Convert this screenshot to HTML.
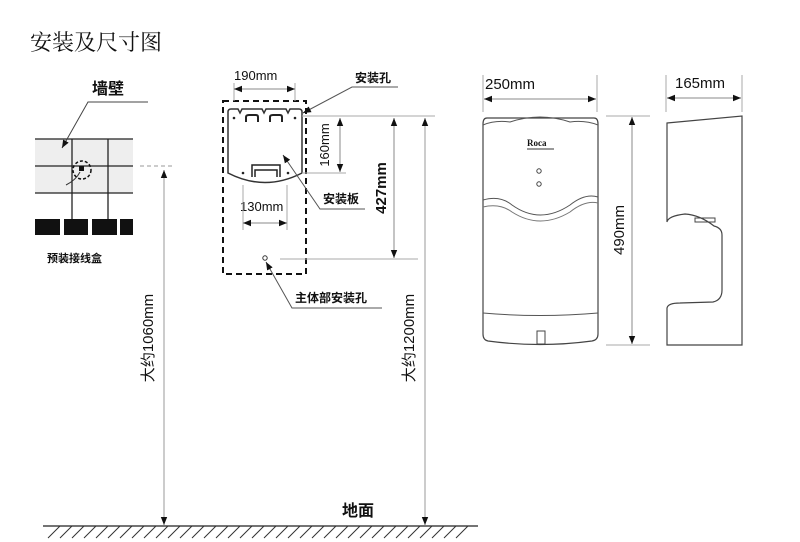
<!DOCTYPE html>
<html><head><meta charset="utf-8"><style>
html,body{margin:0;padding:0;background:#fff;}
svg{display:block;}
text{font-family:"Liberation Sans","Noto Sans CJK SC",sans-serif;fill:#111;}
</style></head><body>
<svg width="800" height="542" viewBox="0 0 800 542" xmlns="http://www.w3.org/2000/svg">
<defs>
<marker id="a" viewBox="0 0 10 10" refX="10" refY="5" markerWidth="8" markerHeight="8" orient="auto-start-reverse" markerUnits="userSpaceOnUse"><path d="M0,1 L10,5 L0,9 z" fill="#111"/></marker>
</defs>
<text x="30" y="50" font-size="22" style="font-family:'Liberation Serif','Noto Serif CJK SC',serif">安装及尺寸图</text>

<!-- wall -->
<text x="92" y="94" font-size="16" font-weight="bold">墙壁</text>
<rect x="35" y="139" width="98" height="54" fill="#eee"/>
<g stroke="#222" stroke-width="1.3" fill="none">
<line x1="35" y1="139" x2="133" y2="139"/><line x1="35" y1="166" x2="133" y2="166"/><line x1="35" y1="193" x2="133" y2="193"/>
<line x1="72" y1="139" x2="72" y2="219"/><line x1="108" y1="139" x2="108" y2="219"/>
</g>
<polyline points="148,102 88,102 62,148" fill="none" stroke="#444" stroke-width="1" marker-end="url(#a)"/>
<g fill="#111"><rect x="35" y="219" width="25" height="16"/><rect x="64" y="219" width="24" height="16"/><rect x="92" y="219" width="25" height="16"/><rect x="120" y="219" width="13" height="16"/></g>
<circle cx="82" cy="170" r="9" fill="none" stroke="#111" stroke-width="1.5" stroke-dasharray="3,2"/>
<rect x="79" y="166" width="5" height="5" fill="#111"/>
<path d="M66,185 Q76,180 80,172" fill="none" stroke="#333" stroke-width="1"/>
<text x="47" y="262" font-size="11" font-weight="bold">预装接线盒</text>

<!-- 1060 -->
<line x1="140" y1="166" x2="173" y2="166" stroke="#999" stroke-dasharray="4,3"/>
<line x1="164" y1="170" x2="164" y2="525" stroke="#999" marker-start="url(#a)" marker-end="url(#a)"/>
<text transform="translate(153,338) rotate(-90)" font-size="15" text-anchor="middle">大约1060mm</text>

<!-- ground -->
<line x1="43" y1="526" x2="478" y2="526" stroke="#222" stroke-width="1.2"/>
<path d="M48,538 l12,-12 M60,538 l12,-12 M72,538 l12,-12 M84,538 l12,-12 M96,538 l12,-12 M108,538 l12,-12 M120,538 l12,-12 M132,538 l12,-12 M144,538 l12,-12 M156,538 l12,-12 M168,538 l12,-12 M180,538 l12,-12 M192,538 l12,-12 M204,538 l12,-12 M216,538 l12,-12 M228,538 l12,-12 M240,538 l12,-12 M252,538 l12,-12 M264,538 l12,-12 M276,538 l12,-12 M288,538 l12,-12 M300,538 l12,-12 M312,538 l12,-12 M324,538 l12,-12 M336,538 l12,-12 M348,538 l12,-12 M360,538 l12,-12 M372,538 l12,-12 M384,538 l12,-12 M396,538 l12,-12 M408,538 l12,-12 M420,538 l12,-12 M432,538 l12,-12 M444,538 l12,-12 M456,538 l12,-12" stroke="#333" stroke-width="1"/>
<text x="342" y="516" font-size="16" font-weight="bold">地面</text>

<!-- dashed box and plate -->
<rect x="223" y="101" width="83" height="173" fill="none" stroke="#111" stroke-width="2" stroke-dasharray="6,4"/>
<path d="M228,112 Q228,109 231,109 L238,109 L240,113 L242,109 L262,109 L264,113 L266,109 L286,109 L288,113 L290,109 L299,109 Q302,109 302,112 L302,173 Q265,192 228,173 Z" fill="none" stroke="#333" stroke-width="1.5"/>
<path d="M246,122 L246,117 Q246,115 249,115 L256,115 Q258,115 258,117 L258,122 M270,122 L270,117 Q270,115 273,115 L280,115 Q282,115 282,117 L282,122" fill="none" stroke="#222" stroke-width="2"/>
<path d="M252,177 L252,165 L280,165 L280,177 M255,177 L255,170 L277,170 L277,177" fill="none" stroke="#222" stroke-width="1.5"/>
<g fill="#222"><circle cx="234" cy="118" r="1.3"/><circle cx="295" cy="118" r="1.3"/><circle cx="243" cy="173" r="1.3"/><circle cx="288" cy="173" r="1.3"/></g>
<circle cx="265" cy="258" r="2.2" fill="none" stroke="#333"/>

<!-- 190 -->
<text x="234" y="80" font-size="13">190mm</text>
<line x1="234" y1="83" x2="234" y2="101" stroke="#aaa"/><line x1="295" y1="83" x2="295" y2="101" stroke="#aaa"/>
<line x1="234" y1="89" x2="295" y2="89" stroke="#888" marker-start="url(#a)" marker-end="url(#a)"/>
<text x="355" y="82" font-size="12" font-weight="bold">安装孔</text>
<polyline points="398,87 352,87 303,113" fill="none" stroke="#555" marker-end="url(#a)"/>
<!-- 160 -->
<line x1="302" y1="116" x2="435" y2="116" stroke="#aaa"/>
<line x1="302" y1="173" x2="346" y2="173" stroke="#aaa"/>
<line x1="340" y1="118" x2="340" y2="172" stroke="#888" marker-start="url(#a)" marker-end="url(#a)"/>
<text transform="translate(329,145) rotate(-90)" font-size="13" text-anchor="middle">160mm</text>
<!-- 安装板 -->
<text x="323" y="203" font-size="12" font-weight="bold">安装板</text>
<polyline points="365,209 320,209 283,155" fill="none" stroke="#555" marker-end="url(#a)"/>
<!-- 130 -->
<text x="240" y="211" font-size="13">130mm</text>
<line x1="243" y1="185" x2="243" y2="230" stroke="#aaa"/><line x1="287" y1="185" x2="287" y2="230" stroke="#aaa"/>
<line x1="243" y1="223" x2="287" y2="223" stroke="#888" marker-start="url(#a)" marker-end="url(#a)"/>
<!-- 427 -->
<line x1="280" y1="259" x2="418" y2="259" stroke="#aaa"/>
<line x1="394" y1="118" x2="394" y2="258" stroke="#888" marker-start="url(#a)" marker-end="url(#a)"/>
<text transform="translate(386,188) rotate(-90)" font-size="15" font-weight="bold" text-anchor="middle">427mm</text>
<!-- 1200 -->
<line x1="425" y1="118" x2="425" y2="525" stroke="#999" marker-start="url(#a)" marker-end="url(#a)"/>
<text transform="translate(414,338) rotate(-90)" font-size="15" text-anchor="middle">大约1200mm</text>
<!-- 主体部安装孔 -->
<text x="295" y="302" font-size="12" font-weight="bold">主体部安装孔</text>
<polyline points="382,308 292,308 266,262" fill="none" stroke="#555" marker-end="url(#a)"/>

<!-- front unit -->
<text x="485" y="89" font-size="15">250mm</text>
<line x1="483" y1="75" x2="483" y2="112" stroke="#aaa"/><line x1="597" y1="75" x2="597" y2="112" stroke="#aaa"/>
<line x1="484" y1="99" x2="596" y2="99" stroke="#888" marker-start="url(#a)" marker-end="url(#a)"/>
<path d="M487,118 L594,118 Q598,118 598,124 L598,334 Q598,340 592,341 Q540,348 488,341 Q483,340 483,334 L483,124 Q483,118 487,118 Z" fill="none" stroke="#444" stroke-width="1.2"/>
<path d="M483,125 Q495,120 510,122 Q540,112 570,122 Q585,120 598,125" fill="none" stroke="#555"/>
<path d="M483,200 Q500,195 512,205 Q540,225 570,205 Q585,193 598,197" fill="none" stroke="#555"/>
<path d="M483,207 Q500,203 512,212 Q540,230 570,212 Q585,200 598,203" fill="none" stroke="#777"/>
<path d="M483,313 Q540,318 598,313" fill="none" stroke="#555"/>
<rect x="537" y="331" width="8" height="13" fill="none" stroke="#444"/>
<text x="527" y="146" font-size="9" font-weight="bold" style="font-family:'Liberation Serif',serif">Roca</text>
<line x1="527" y1="149" x2="554" y2="149" stroke="#333"/>
<circle cx="539" cy="171" r="2.2" fill="none" stroke="#444"/><circle cx="539" cy="184" r="2.2" fill="none" stroke="#444"/>
<!-- 490 -->
<line x1="606" y1="116" x2="650" y2="116" stroke="#aaa"/><line x1="606" y1="345" x2="650" y2="345" stroke="#aaa"/>
<line x1="632" y1="117" x2="632" y2="344" stroke="#888" marker-start="url(#a)" marker-end="url(#a)"/>
<text transform="translate(624,230) rotate(-90)" font-size="15" text-anchor="middle">490mm</text>
<!-- side -->
<text x="675" y="88" font-size="15">165mm</text>
<line x1="666" y1="75" x2="666" y2="112" stroke="#aaa"/><line x1="742" y1="75" x2="742" y2="112" stroke="#aaa"/>
<line x1="667" y1="98" x2="741" y2="98" stroke="#888" marker-start="url(#a)" marker-end="url(#a)"/>
<path d="M667,123 L742,116 L742,345 L667,345 L667,308 Q668,303 680,303 L713,302 Q722,300 722,290 L722,235 Q722,228 714,226 Q700,215 685,214 Q668,216 667,222 Z" fill="none" stroke="#444" stroke-width="1.2"/>
<rect x="695" y="218" width="20" height="4" fill="none" stroke="#444"/>
</svg>
</body></html>
